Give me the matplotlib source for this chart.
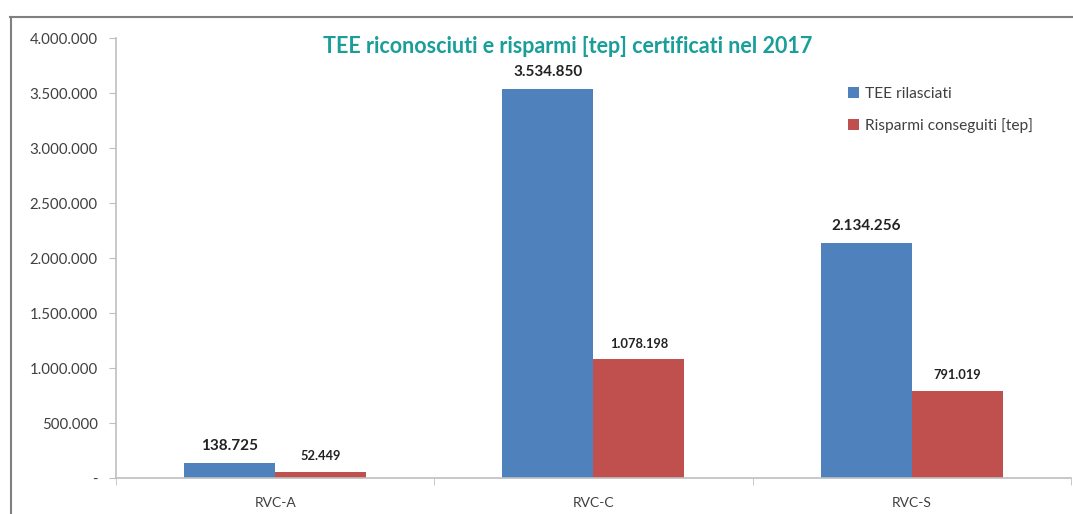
import matplotlib.pyplot as plt
import numpy as np
from matplotlib.lines import Line2D
from matplotlib.ticker import FuncFormatter

plt.rcParams['font.family'] = ['Lato', 'DejaVu Sans']

categories = ['RVC-A', 'RVC-C', 'RVC-S']
tee_rilasciati = [138725, 3534850, 2134256]
risparmi_tep = [52449, 1078198, 791019]
series_names = ['TEE rilasciati', 'Risparmi conseguiti [tep]']

blue = '#4F81BD'
red = '#C0504D'
grey = '#BFBFBF'
text_col = '#404040'


def fmt_it(v, pos=None):
    if v == 0:
        return '-'
    return f'{int(round(v)):,}'.replace(',', '.')


fig = plt.figure(figsize=(10.73, 5.14), dpi=100)
ax = fig.add_axes([0.1081, 0.070, 0.8899, 0.856])

x = np.arange(len(categories))
w = 0.286
b1 = ax.bar(x - w / 2, tee_rilasciati, w, color=blue, label=series_names[0])
b2 = ax.bar(x + w / 2, risparmi_tep, w, color=red, label=series_names[1])

for rect, v in zip(b1, tee_rilasciati):
    ax.text(rect.get_x() + rect.get_width() / 2, v + 90000, fmt_it(v),
            ha='center', va='bottom', fontsize=11, fontweight='bold', color='#222222')
for rect, v in zip(b2, risparmi_tep):
    ax.text(rect.get_x() + rect.get_width() / 2, v + 90000, fmt_it(v),
            ha='center', va='bottom', fontsize=9.3, fontweight='bold', color='#222222')

ax.set_ylim(0, 4000000)
ax.set_xlim(-0.5, 2.5)
ax.set_yticks(np.arange(0, 4000001, 500000))
ax.yaxis.set_major_formatter(FuncFormatter(fmt_it))
ax.set_xticks(x)
ax.set_xticklabels(categories)
ax.set_xticks([-0.5, 0.5, 1.5, 2.5], minor=True)
ax.tick_params(axis='x', which='major', length=0, pad=14, labelsize=10, labelcolor=text_col)
ax.tick_params(axis='x', which='minor', length=5, color=grey)
ax.tick_params(axis='y', length=5, color=grey, labelsize=10.8, labelcolor=text_col, pad=8)

for s in ['top', 'right']:
    ax.spines[s].set_visible(False)
for s in ['left', 'bottom']:
    ax.spines[s].set_color(grey)
    ax.spines[s].set_linewidth(1.2)

ax.legend(loc='upper left', bbox_to_anchor=(0.752, 0.92), frameon=False,
          handlelength=0.7, handleheight=0.7, handletextpad=0.4,
          labelspacing=1.1, fontsize=11.2, labelcolor=text_col)

fig.text(0.529, 0.910, 'TEE riconosciuti e risparmi [tep] certificati nel 2017',
         ha='center', va='center', fontsize=15.5, fontweight='bold', color='#1A9E9A')

# outer chart frame (top and left edges visible)
fig.add_artist(Line2D([0.0093, 1.0], [0.967, 0.967], color='#808080', lw=1.5,
                      transform=fig.transFigure))
fig.add_artist(Line2D([0.0103, 0.0103], [0.0, 0.967], color='#808080', lw=1.5,
                      transform=fig.transFigure))

fig.savefig('out.png', dpi=100)
